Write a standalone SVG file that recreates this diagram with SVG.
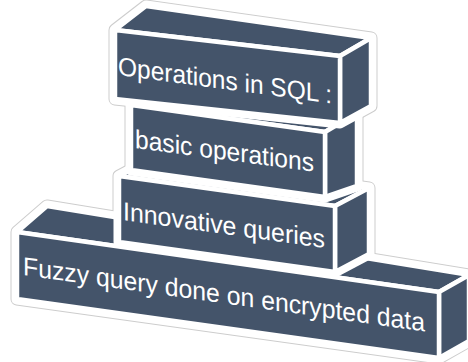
<svg xmlns="http://www.w3.org/2000/svg" width="468" height="362" viewBox="0 0 468 362">
<style>
.ring{fill:none;stroke:#cdcdcd;stroke-width:13;stroke-linejoin:round}
.halo{fill:#fff;stroke:#fff;stroke-width:11;stroke-linejoin:round}
.face{fill:#44546A;stroke:#fff;stroke-width:4.5;stroke-linejoin:round}
.lbl{fill:#fff;font-family:"Liberation Sans",Arial,sans-serif;font-size:26px}
</style>
<rect width="468" height="362" fill="#fff"/>
<g id="stack-outline">
<polygon class="ring" points="17,232 47,206 469,275 469,341 439,358 17,299"/>
<polygon class="ring" points="119,176 153,158 369,188 369,254 335,272 119,242"/>
<polygon class="ring" points="131,105 163,83 357,113 357,186 325,197 131,170"/>
<polygon class="ring" points="115,30 146,6 371,38 371,106 340,123 115,99"/>
</g>
<g id="block-fuzzy">
<polygon class="halo" points="17,232 47,206 469,275 469,341 439,358 17,299"/>
<polygon class="face" points="17,232 47,206 469,275 439,292"/>
<polygon class="face" points="439,292 469,275 469,341 439,358"/>
<polygon class="face" points="17,232 439,292 439,358 17,299"/>
<text class="lbl" transform="translate(23,275) skewY(8)" textLength="402" lengthAdjust="spacingAndGlyphs">Fuzzy query done on encrypted data</text>
</g>
<g id="block-innovative">
<polygon class="halo" points="119,176 153,158 369,188 369,254 335,272 119,242"/>
<polygon class="face" points="119,176 153,158 369,188 335,206"/>
<polygon class="face" points="335,206 369,188 369,254 335,272"/>
<polygon class="face" points="119,176 335,206 335,272 119,242"/>
<text class="lbl" transform="translate(123,220) skewY(7.9)" textLength="202" lengthAdjust="spacingAndGlyphs">Innovative queries</text>
</g>
<g id="block-basic">
<polygon class="halo" points="131,105 163,83 357,113 357,186 325,197 131,170"/>
<polygon class="face" points="131,105 163,83 357,113 325,132"/>
<polygon class="face" points="325,132 357,113 357,186 325,197"/>
<polygon class="face" points="131,105 325,132 325,197 131,170"/>
<text class="lbl" transform="translate(135,148) skewY(7.5)" textLength="179" lengthAdjust="spacingAndGlyphs">basic operations</text>
</g>
<g id="block-sql">
<polygon class="halo" points="115,30 146,6 371,38 371,106 340,123 115,99"/>
<polygon class="face" points="115,30 146,6 371,38 340,56"/>
<polygon class="face" points="340,56 371,38 371,106 340,123"/>
<polygon class="face" points="115,30 340,56 340,123 115,99"/>
<text class="lbl" transform="translate(118,75) skewY(7.6)" textLength="214" lengthAdjust="spacingAndGlyphs">Operations in SQL :</text>
</g>
</svg>
